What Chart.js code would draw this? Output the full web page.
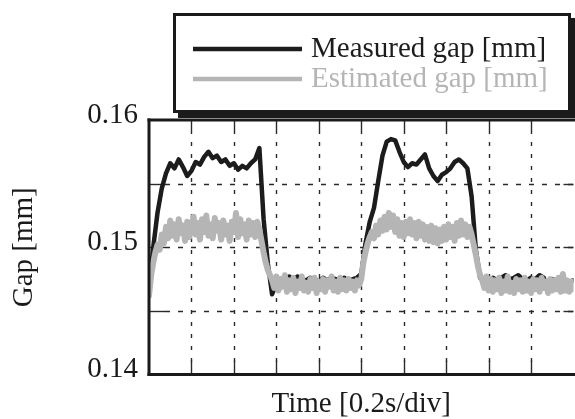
<!DOCTYPE html>
<html>
<head>
<meta charset="utf-8">
<script src="https://cdn.jsdelivr.net/npm/chart.js@4.4.1/dist/chart.umd.min.js"></script>
<style>
  html, body { margin: 0; padding: 0; background: #fff; }
  #wrap { width: 575px; height: 419px; }
</style>
</head>
<body>
<div id="wrap"><canvas id="gapChart" width="575" height="419"></canvas></div>
<script>
const seriesLabels = ['Measured gap [mm]', 'Estimated gap [mm]'];
const seriesColors = ['#1c1c1c', '#b5b5b5'];
const timeRange = [0, 2]; // s, 10 divisions of 0.2 s
const divisionStep = 0.2;
const gapRange = [0.14, 0.16];
const gapGridStep = 0.005;
const measuredStep = 0.02;
const estimatedStep = 0.01;

// measured gap, one sample every 0.02 s
const measuredGap = [
  0.1465, 0.1500, 0.1527, 0.1546, 0.1558, 0.1566, 0.1562, 0.1569, 0.1563, 0.1556,
  0.1560, 0.1567, 0.1565, 0.1571, 0.1575, 0.1570, 0.1572, 0.1567, 0.1569, 0.1564,
  0.1566, 0.1561, 0.1564, 0.1562, 0.1566, 0.1569, 0.1578, 0.1522, 0.1487, 0.1463,
  0.1472, 0.1475, 0.1474, 0.1477, 0.1475, 0.1477, 0.1475, 0.1474, 0.1476, 0.1475,
  0.1473, 0.1476, 0.1474, 0.1476, 0.1475, 0.1474, 0.1476, 0.1473, 0.1475, 0.1476,
  0.1479, 0.1503, 0.1520, 0.1531, 0.1552, 0.1572, 0.1583, 0.1585, 0.1584, 0.1575,
  0.1567, 0.1563, 0.1566, 0.1565, 0.1569, 0.1573, 0.1562, 0.1556, 0.1552, 0.1557,
  0.1559, 0.1562, 0.1567, 0.1569, 0.1566, 0.1562, 0.1540, 0.1498, 0.1476, 0.1473,
  0.1475, 0.1476, 0.1474, 0.1476, 0.1478, 0.1475, 0.1476, 0.1478, 0.1475, 0.1474,
  0.1476, 0.1475, 0.1478, 0.1476, 0.1466, 0.1475, 0.1474, 0.1475, 0.1474, 0.1473,
  0.1474
];

// estimated gap, one sample every 0.01 s
const estimatedGap = [
  0.1462, 0.1478, 0.1488, 0.1496, 0.1502, 0.1498, 0.1510, 0.1503, 0.1516, 0.1507,
  0.1521, 0.1509, 0.1518, 0.1506, 0.1522, 0.1511, 0.1517, 0.1505, 0.1520, 0.1508,
  0.1516, 0.1524, 0.1510, 0.1519, 0.1506, 0.1522, 0.1512, 0.1525, 0.1509, 0.1518,
  0.1507, 0.1523, 0.1513, 0.1519, 0.1506, 0.1521, 0.1510, 0.1517, 0.1505, 0.1520,
  0.1512, 0.1527, 0.1508, 0.1522, 0.1511, 0.1518, 0.1506, 0.1521, 0.1510, 0.1519,
  0.1508, 0.1520, 0.1514, 0.1505, 0.1496, 0.1488, 0.1482, 0.1478, 0.1474, 0.1468,
  0.1477, 0.1466, 0.1475, 0.1469, 0.1478, 0.1465, 0.1474, 0.1467, 0.1476, 0.1464,
  0.1473, 0.1468, 0.1477, 0.1466, 0.1472, 0.1465, 0.1475, 0.1468, 0.1476, 0.1464,
  0.1473, 0.1467, 0.1475, 0.1465, 0.1474, 0.1469, 0.1477, 0.1466, 0.1473, 0.1465,
  0.1476, 0.1467, 0.1474, 0.1466, 0.1475, 0.1468, 0.1473, 0.1466, 0.1474, 0.1470,
  0.1475, 0.1488, 0.1496, 0.1503, 0.1508, 0.1512, 0.1507, 0.1517, 0.1510, 0.1521,
  0.1513, 0.1524, 0.1514, 0.1527, 0.1516, 0.1525, 0.1512, 0.1522, 0.1509, 0.1519,
  0.1508, 0.1520, 0.1511, 0.1522, 0.1510, 0.1519, 0.1507, 0.1520, 0.1509, 0.1518,
  0.1506, 0.1516, 0.1505, 0.1517, 0.1504, 0.1515, 0.1503, 0.1514, 0.1505, 0.1516,
  0.1506, 0.1518, 0.1508, 0.1516, 0.1505, 0.1519, 0.1509, 0.1521, 0.1510, 0.1518,
  0.1508, 0.1516, 0.1510, 0.1502, 0.1494, 0.1485, 0.1478, 0.1474, 0.1468, 0.1477,
  0.1466, 0.1475, 0.1465, 0.1474, 0.1467, 0.1476, 0.1464, 0.1473, 0.1466, 0.1477,
  0.1465, 0.1472, 0.1464, 0.1475, 0.1467, 0.1474, 0.1465, 0.1476, 0.1466, 0.1473,
  0.1464, 0.1475, 0.1467, 0.1474, 0.1465, 0.1476, 0.1468, 0.1473, 0.1464, 0.1475,
  0.1466, 0.1474, 0.1467, 0.1476, 0.1465, 0.1479, 0.1466, 0.1474, 0.1465, 0.1473,
  0.1467
];

const serif = "'Liberation Serif', 'Times New Roman', serif";
const toPoints = (values, step) => values.map((v, i) => ({ x: +(i * step).toFixed(3), y: v }));

const line = (ctx, x1, y1, x2, y2) => {
  ctx.beginPath();
  ctx.moveTo(x1, y1);
  ctx.lineTo(x2, y2);
  ctx.stroke();
};

// dashed grid, inward ticks and the open frame (no right edge)
const framePlugin = {
  id: 'frame',
  beforeDatasetsDraw(chart) {
    const { ctx, chartArea: a, scales: { x, y } } = chart;
    ctx.save();
    ctx.strokeStyle = '#2a2a2a';
    ctx.lineWidth = 1.4;
    x.ticks.forEach((t) => {
      if (t.value <= x.min + 1e-6 || t.value >= x.max - 1e-6) return;
      const px = Math.round(x.getPixelForValue(t.value)) + 0.5;
      ctx.setLineDash([4, 8]);
      line(ctx, px, a.top + 10, px, a.bottom - 12);
      ctx.setLineDash([]);
      line(ctx, px, a.top, px, a.top + 10);
      line(ctx, px, a.bottom - 14, px, a.bottom);
    });
    y.ticks.forEach((t) => {
      if (t.value <= y.min + 1e-6 || t.value >= y.max - 1e-6) return;
      const py = Math.round(y.getPixelForValue(t.value)) + 0.5;
      ctx.setLineDash([5, 8]);
      line(ctx, a.left + 16, py, a.right, py);
      ctx.setLineDash([]);
      line(ctx, a.left, py, a.left + 16, py);
      line(ctx, a.right - 10, py, a.right, py);
    });
    ctx.restore();
  },
  afterDatasetsDraw(chart) {
    const { ctx, chartArea: a } = chart;
    ctx.save();
    ctx.strokeStyle = '#1a1a1a';
    ctx.lineWidth = 3;
    ctx.lineCap = 'square';
    line(ctx, a.left, a.top, a.right + 2, a.top);
    line(ctx, a.left, a.top, a.left, a.bottom);
    line(ctx, a.left, a.bottom, a.right + 2, a.bottom);
    ctx.restore();
  },
};

// boxed legend with a drop shadow, overlapping the plot
const legendBoxPlugin = {
  id: 'legendBox',
  afterDraw(chart) {
    const { ctx } = chart;
    const box = { left: 173, top: 13, width: 398, height: 100, shadow: 5 };
    ctx.save();
    ctx.fillStyle = '#1a1a1a';
    ctx.fillRect(box.left + box.shadow, box.top + box.shadow, box.width, box.height);
    ctx.fillStyle = '#fff';
    ctx.fillRect(box.left, box.top, box.width, box.height);
    ctx.strokeStyle = '#1a1a1a';
    ctx.lineWidth = 3;
    ctx.strokeRect(box.left + 1.5, box.top + 1.5, box.width - 3, box.height - 3);
    ctx.font = '29px ' + serif;
    ctx.textBaseline = 'alphabetic';
    chart.data.datasets.forEach((ds, i) => {
      const y = 49 + i * 30;
      ctx.strokeStyle = ds.borderColor;
      ctx.lineWidth = 4.5;
      line(ctx, 193, y, 302, y);
      ctx.fillStyle = ds.borderColor;
      ctx.fillText(ds.label, 311, y + 8);
    });
    ctx.restore();
  },
};

new Chart(document.getElementById('gapChart'), {
  type: 'line',
  data: {
    datasets: [
      {
        label: seriesLabels[0],
        data: toPoints(measuredGap, measuredStep),
        borderColor: seriesColors[0],
        borderWidth: 4.5,
        order: 1,
      },
      {
        label: seriesLabels[1],
        data: toPoints(estimatedGap, estimatedStep),
        borderColor: seriesColors[1],
        borderWidth: 6,
        order: 0,
      },
    ],
  },
  options: {
    responsive: false,
    animation: false,
    devicePixelRatio: 1,
    layout: { padding: { top: 120, right: 1.5, left: 0, bottom: 0 } },
    elements: {
      point: { radius: 0 },
      line: { tension: 0, borderJoinStyle: 'round', borderCapStyle: 'round' },
    },
    plugins: {
      legend: { display: false },
      tooltip: { enabled: false },
    },
    scales: {
      x: {
        type: 'linear',
        min: timeRange[0],
        max: timeRange[1],
        ticks: { display: false, stepSize: divisionStep },
        grid: { display: false },
        border: { display: false },
        title: {
          display: true,
          text: 'Time [0.2s/div]',
          color: '#1a1a1a',
          font: { family: serif, size: 29, lineHeight: 1 },
          padding: { top: 0, bottom: 0 },
        },
        afterFit: (s) => { s.height = 44.5; },
      },
      y: {
        min: gapRange[0],
        max: gapRange[1],
        ticks: {
          stepSize: gapGridStep,
          padding: 11,
          labelOffset: -5,
          color: '#1a1a1a',
          font: { family: serif, size: 29 },
          callback: (v) => {
            const r = Math.round(v * 1000);
            return r % 10 === 0 ? (r / 1000).toFixed(2) : '';
          },
        },
        grid: { display: false, drawTicks: false },
        border: { display: false },
        title: {
          display: true,
          text: 'Gap [mm]',
          color: '#1a1a1a',
          font: { family: serif, size: 29, lineHeight: 1 },
          padding: { top: 10, bottom: 0 },
        },
        afterFit: (s) => { s.width = 149; },
      },
    },
  },
  plugins: [framePlugin, legendBoxPlugin],
});
</script>
</body>
</html>
